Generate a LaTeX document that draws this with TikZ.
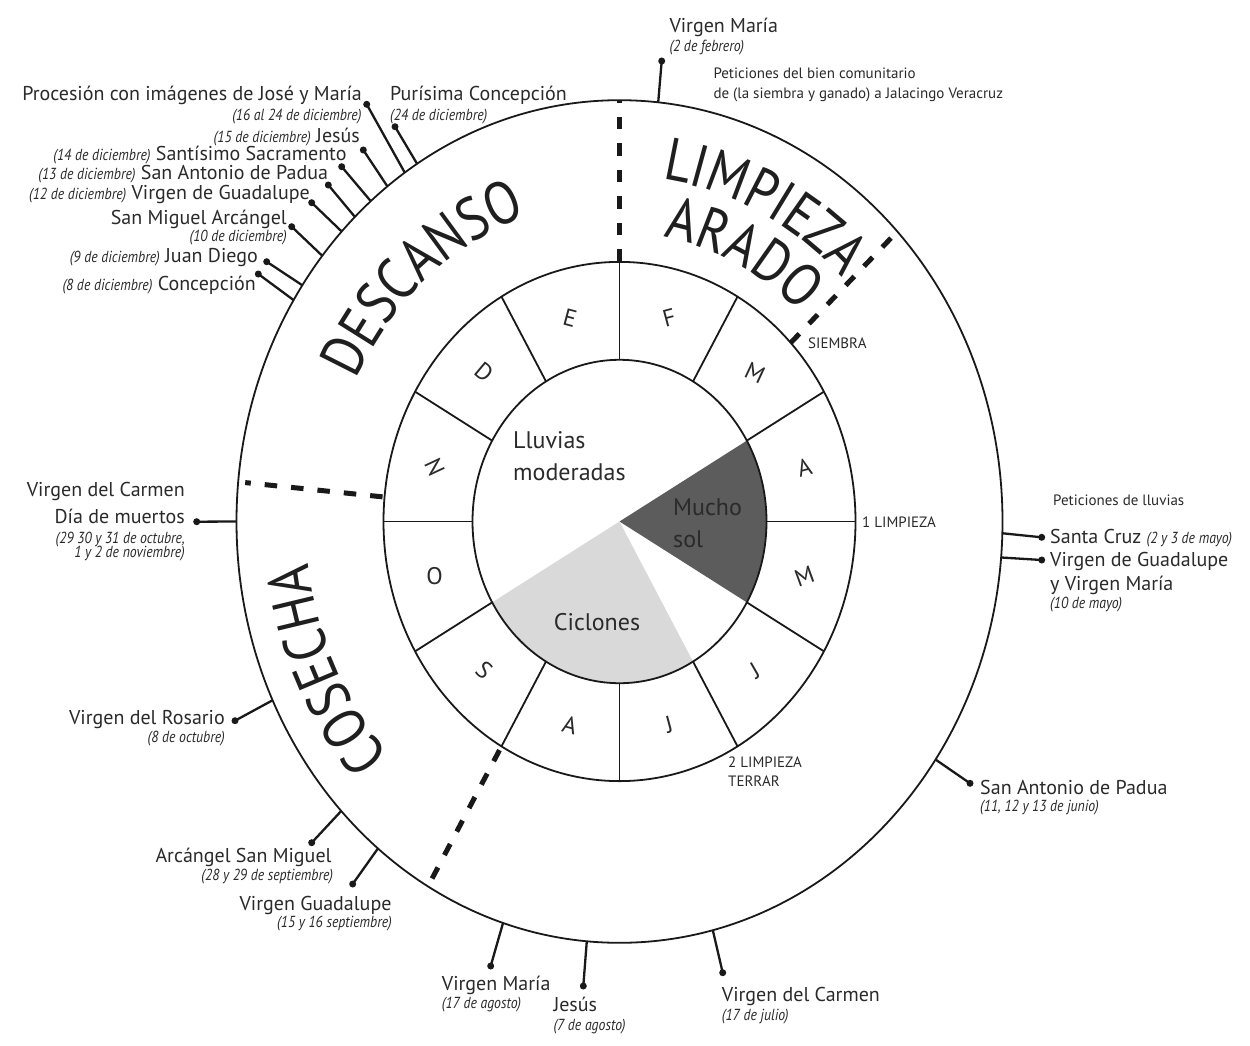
\documentclass[tikz,border=0pt]{standalone}
\usepackage{fontspec}
\setmainfont{PT Sans}
\newfontfamily\datefam{PT Sans}[FakeStretch=0.86]
\newfontfamily\bigfam{PT Sans}[FakeStretch=0.85]
\usetikzlibrary{decorations.text}
\definecolor{ink}{HTML}{2A2A2A}
\definecolor{sundark}{HTML}{5C5C5C}
\definecolor{cyclight}{HTML}{D9D9D9}
\newcommand\mydate{\datefam\itshape\fontsize{16}{18}\selectfont}
\newcommand\bigw{\bigfam\fontsize{60}{60}\selectfont}
\tikzset{
  ringsty/.style={line width=1.8pt, draw=black!90},
  dashsty/.style={line width=5pt, draw=black!90, dash pattern=on 12.5pt off 14pt},
  connsty/.style={line width=2.3pt, draw=black!90},
  dotsty/.style={circle, fill=black!90, inner sep=0pt, minimum size=7pt},
  lblsty/.style={font=\fontsize{20}{22}\selectfont, text=ink, inner sep=0pt},
  datesty/.style={font=\mydate, text=ink, inner sep=0pt},
  smallsty/.style={font=\fontsize{15}{17}\selectfont, text=ink, inner sep=0pt},
  tinysty/.style={font=\fontsize{15}{17}\selectfont, text=ink, inner sep=0pt},
  monthsty/.style={font=\fontsize{24}{24}\selectfont, text=ink, inner sep=0pt},
  zonesty/.style={font=\fontsize{24}{28}\selectfont, text=ink, inner sep=0pt},
  bigsty/.style={decorate, decoration={text along path, text align=center, text color=black!88}},
}
\begin{document}
\begin{tikzpicture}[x=1pt,y=-1pt]
\fill[white] (0,0) rectangle (1250,1046);
\useasboundingbox (0,0) rectangle (1250,1046);

% ---------- rings ----------
\begin{scope}[shift={(619.5,521.5)}, yscale=1.1]
  \fill[sundark] (0,0) -- (30:147) arc[start angle=30, end angle=-30, radius=147] -- cycle;
  \fill[cyclight] (0,0) -- (60:147) arc[start angle=60, end angle=150, radius=147] -- cycle;
  \draw[ringsty] (0,0) circle[radius=383];
  \draw[ringsty] (0,0) circle[radius=236];
  \draw[ringsty] (0,0) circle[radius=147];
  \foreach \a in {0,30,...,330} \draw[ringsty] (\a:147) -- (\a:236);
  % season separators
  \draw[dashsty] (-90:236) -- (-90:383);
  \draw[dashsty] (-43.5:236) -- (-43.5:383);
  \draw[dashsty] (-174.6:238) -- (-174.6:376);
  \draw[dashsty] (-240:240) -- (-240:383);
  % months (rotation sign is mirrored by the y=-1pt frame)
  \node[monthsty, rotate=15] (mF) at (-75:191.5) {F};
  \node[monthsty, rotate=-25] (mM1) at (-45:191.5) {M};
  \node[monthsty, rotate=15] (mA1) at (-15:191.5) {A};
  \node[monthsty, rotate=20] (mM2) at (15:191.5) {M};
  \node[monthsty, rotate=30] (mJ1) at (45:191.5) {J};
  \node[monthsty, rotate=15] (mJ2) at (75:191.5) {J};
  \node[monthsty, rotate=-15] (mA2) at (105:191.5) {A};
  \node[monthsty, rotate=-40] (mS) at (135:191.5) {S};
  \node[monthsty] (mO) at (165:191.5) {O};
  \node[monthsty, rotate=-65] (mN) at (-165:191.5) {N};
  \node[monthsty, rotate=-40] (mD) at (-135:191.5) {D};
  \node[monthsty, rotate=-15] (mE) at (-105:191.5) {E};
  % connector feet on the outer ring
  \coordinate (oProc) at (-124.1:383);
  \coordinate (oPuri) at (-121.9:383);
  \coordinate (oJes) at (-127.3:383);
  \coordinate (oSant) at (-130.5:383);
  \coordinate (oSanA) at (-133.7:383);
  \coordinate (oVG1) at (-136.5:383);
  \coordinate (oSM) at (-140.9:383);
  \coordinate (oJD) at (-145.9:383);
  \coordinate (oConc) at (-148.3:383);
  \coordinate (oVM1) at (-84.2:383);
  \coordinate (oSC) at (1.6:383);
  \coordinate (oVG2) at (4.9:383);
  \coordinate (oSA2) at (34.4:383);
  \coordinate (oVC2) at (75.9:383);
  \coordinate (oJ2) at (94.9:383);
  \coordinate (oVM2) at (107.7:383);
  \coordinate (oASM) at (136.6:383);
  \coordinate (oVG3) at (129.1:383);
  \coordinate (oVR) at (154.9:383);
  \coordinate (oDM) at (180:383);
\end{scope}

% ---------- big season words ----------
\begin{scope}[shift={(619.5,521.5)}]
  \path[bigsty, decoration={text={|\bigw|LIMPIEZA}}] (-99:314 and 345.4) arc[start angle=-99, end angle=-29, x radius=314, y radius=345.4];
  \path[bigsty, decoration={text={|\bigw|ARADO}}] (-99:262 and 288.2) arc[start angle=-99, end angle=-29, x radius=262, y radius=288.2];
  \path[bigsty, decoration={text={|\bigw|DESCANSO}}] (-170.5:293 and 322.3) arc[start angle=-170.5, end angle=-90.5, x radius=293, y radius=322.3];
  \path[bigsty, decoration={text={|\bigw|COSECHA}}] (-245.5:313 and 344.3) arc[start angle=-245.5, end angle=-165.5, x radius=313, y radius=344.3];
\end{scope}

% ---------- centre texts ----------
\node[zonesty, anchor=base west] (tLl) at (513,448.3) {Lluvias};
\node[zonesty, anchor=base west] (tMo) at (513,480.7) {moderadas};
\node[zonesty, anchor=base west] (tMu) at (673,515) {Mucho};
\node[zonesty, anchor=base west] (tSo) at (673,547.3) {sol};
\node[zonesty, anchor=base] (tCi) at (597,630.7) {Ciclones};

% ---------- small ring notes ----------
\node[tinysty, anchor=base west] (tSiem) at (808,348.3) {SIEMBRA};
\node[tinysty, anchor=base west] (tL1) at (862,527) {1 LIMPIEZA};
\node[tinysty, anchor=base west] (tL2) at (728,767) {2 LIMPIEZA};
\node[tinysty, anchor=base west] (tTer) at (728,786) {TERRAR};

% ---------- dots ----------
\node[dotsty] (dProc) at (366.7,104.3) {};
\node[dotsty] (dPuri) at (395,126.7) {};
\node[dotsty] (dJes) at (363.3,150) {};
\node[dotsty] (dSant) at (341.7,166.7) {};
\node[dotsty] (dSanA) at (328.3,185) {};
\node[dotsty] (dVG1) at (311.7,202.7) {};
\node[dotsty] (dSM) at (291.7,226.7) {};
\node[dotsty] (dJD) at (266.7,261.7) {};
\node[dotsty] (dConc) at (258.3,274) {};
\node[dotsty] (dVM1) at (661.7,61) {};
\node[dotsty] (dSC) at (1041.7,537.3) {};
\node[dotsty] (dVG2) at (1041.7,560) {};
\node[dotsty] (dSA2) at (970,783.3) {};
\node[dotsty] (dVC2) at (722.7,972.7) {};
\node[dotsty] (dJ2) at (583.3,986) {};
\node[dotsty] (dVM2) at (490.7,966) {};
\node[dotsty] (dASM) at (311.7,842.7) {};
\node[dotsty] (dVG3) at (352.7,884) {};
\node[dotsty] (dVR) at (235,720.7) {};
\node[dotsty] (dDM) at (196.7,521.7) {};

\foreach \n in {Proc,Puri,Jes,Sant,SanA,VG1,SM,JD,Conc,VM1,SC,VG2,SA2,VC2,J2,VM2,ASM,VG3,VR,DM}
  \draw[connsty] (o\n) -- (d\n.center);

% ---------- labels: December group ----------
\node[lblsty, anchor=base east] (tProc) at (362,100.7) {Procesión con imágenes de José y María};
\node[datesty, anchor=base east] (tProcD) at (361.7,120.7) {(16 al 24 de diciembre)};
\node[lblsty, anchor=base west] (tPuri) at (390,100.7) {Purísima Concepción};
\node[datesty, anchor=base west] (tPuriD) at (390,120.7) {(24 de diciembre)};
\node[lblsty, anchor=base east] (tJes) at (360,142.3) {{\mydate (15 de diciembre)} Jesús};
\node[lblsty, anchor=base east] (tSant) at (346.7,160.7) {{\mydate (14 de diciembre)} Santísimo Sacramento};
\node[lblsty, anchor=base east] (tSanA) at (328.3,179.3) {{\mydate (13 de diciembre)} San Antonio de Padua};
\node[lblsty, anchor=base east] (tVG1) at (310,199.3) {{\mydate (12 de diciembre)} Virgen de Guadalupe};
\node[lblsty, anchor=base east] (tSM) at (287,224) {San Miguel Arcángel};
\node[datesty, anchor=base east] (tSMD) at (287,241.7) {(10 de diciembre)};
\node[lblsty, anchor=base east] (tJD) at (258,262.7) {{\mydate (9 de diciembre)} Juan Diego};
\node[lblsty, anchor=base east] (tConc) at (256,290) {{\mydate (8 de diciembre)} Concepción};

% ---------- top ----------
\node[lblsty, anchor=base west] (tVM1) at (669.3,32.7) {Virgen María};
\node[datesty, anchor=base west] (tVM1d) at (669.3,51.7) {(2 de febrero)};
\node[smallsty, anchor=base west] (tPet1) at (713.3,79) {Peticiones del bien comunitario};
\node[smallsty, anchor=base west] (tPet2) at (713.3,99) {de (la siembra y ganado) a Jalacingo Veracruz};

% ---------- right ----------
\node[smallsty, anchor=base west] (tPetL) at (1053,505.7) {Peticiones de lluvias};
\node[lblsty, anchor=base west] (tSC) at (1050,543.3) {Santa Cruz {\mydate (2 y 3 de mayo)}};
\node[lblsty, anchor=base west] (tVG2) at (1050,566) {Virgen de Guadalupe};
\node[lblsty, anchor=base west] (tVG2b) at (1050,590) {y Virgen María};
\node[datesty, anchor=base west] (tVG2d) at (1050,608.3) {(10 de mayo)};
\node[lblsty, anchor=base west] (tSA2) at (980,794) {San Antonio de Padua};
\node[datesty, anchor=base west] (tSA2d) at (980,811.7) {(11, 12 y 13 de junio)};

% ---------- bottom ----------
\node[lblsty, anchor=base west] (tVC2) at (721.7,1001) {Virgen del Carmen};
\node[datesty, anchor=base west] (tVC2d) at (721.7,1020) {(17 de julio)};
\node[lblsty, anchor=base west] (tJ2) at (553.3,1011) {Jesús};
\node[datesty, anchor=base west] (tJ2d) at (553.3,1030) {(7 de agosto)};
\node[lblsty, anchor=base west] (tVM2) at (441.7,990.7) {Virgen María};
\node[datesty, anchor=base west] (tVM2d) at (441.7,1008.3) {(17 de agosto)};

% ---------- lower left ----------
\node[lblsty, anchor=base east] (tASM) at (331.7,862.3) {Arcángel San Miguel};
\node[datesty, anchor=base east] (tASMd) at (333.3,880) {(28 y 29 de septiembre)};
\node[lblsty, anchor=base east] (tVG3) at (391.7,910) {Virgen Guadalupe};
\node[datesty, anchor=base east] (tVG3d) at (392,927.7) {(15 y 16 septiembre)};
\node[lblsty, anchor=base east] (tVR) at (225,724.3) {Virgen del Rosario};
\node[datesty, anchor=base east] (tVRd) at (225,742.7) {(8 de octubre)};

% ---------- left ----------
\node[lblsty, anchor=base east] (tVC1) at (185,496.7) {Virgen del Carmen};
\node[lblsty, anchor=base east] (tDM) at (185,523.3) {Día de muertos};
\node[datesty, anchor=base east] (tDMd1) at (185,543.3) {(29 30 y 31 de octubre,};
\node[datesty, anchor=base east] (tDMd2) at (185,557.3) {1 y 2 de noviembre)};
\end{tikzpicture}
\end{document}
